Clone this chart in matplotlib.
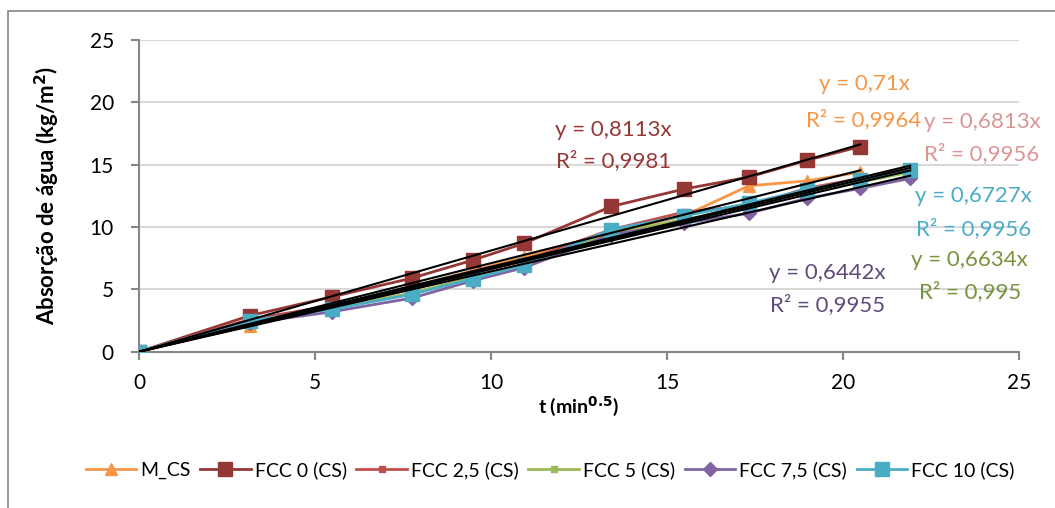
import numpy as np
import matplotlib
matplotlib.use("Agg")
import matplotlib.pyplot as plt
from matplotlib.patches import Rectangle

plt.rcParams['font.family'] = ['Lato', 'DejaVu Sans']

# t (min^0.5)
t_short = [0, 3.16, 5.48, 7.75, 9.49, 10.95, 13.42, 15.49, 17.32, 18.97, 20.49]
t_long = t_short + [21.91]

m_cs = [0, 2.1, 3.7, 5.2, 6.5, 7.6, 9.6, 10.9, 13.3, 13.7, 14.4]
fcc0 = [0, 2.9, 4.4, 5.9, 7.35, 8.7, 11.65, 13.05, 14.0, 15.35, 16.45]
fcc25 = [0, 2.6, 3.7, 5.0, 6.3, 7.3, 9.8, 11.2, 11.7, 13.1, 13.9, 14.8]
fcc5 = [0, 2.4, 3.5, 4.7, 6.0, 7.0, 9.5, 10.6, 11.6, 12.8, 13.6, 14.4]
fcc75 = [0, 2.3, 3.2, 4.3, 5.7, 6.75, 9.4, 10.3, 11.1, 12.3, 13.1, 13.9]
fcc10 = [0, 2.5, 3.4, 4.6, 5.85, 6.95, 9.8, 10.9, 11.9, 13.0, 13.8, 14.6]

names = ["M_CS", "FCC 0 (CS)", "FCC 2,5 (CS)", "FCC 5 (CS)", "FCC 7,5 (CS)", "FCC 10 (CS)"]
slopes = [0.71, 0.8113, 0.6813, 0.6634, 0.6442, 0.6727]
r2 = ["0,9964", "0,9981", "0,9956", "0,995", "0,9955", "0,9956"]
eq = ["0,71", "0,8113", "0,6813", "0,6634", "0,6442", "0,6727"]

series = [(t_short, m_cs), (t_short, fcc0), (t_long, fcc25),
          (t_long, fcc5), (t_long, fcc75), (t_long, fcc10)]
colors = ["#F79646", "#953735", "#C0504D", "#9BBB59", "#8064A2", "#4BACC6"]
markers = ["^", "s", "s", "s", "D", "s"]
msizes = [9, 10, 4, 4, 7, 10]
label_colors = ["#F79646", "#953735", "#D99694", "#77933C", "#604A7B", "#4BACC6"]
# label anchor positions (data coords): equation line, R2 line
label_pos = [(20.6, 21.45, 18.6), (13.47, 17.75, 15.35), (23.95, 18.4, 15.9),
             (23.6, 7.35, 4.85), (19.55, 6.3, 3.75), (23.7, 12.45, 9.9)]

fig = plt.figure(figsize=(10.55, 5.08), dpi=100)
ax = fig.add_axes([139 / 1055, 1 - 351.7 / 508, 880 / 1055, 311.7 / 508])

# chart border
fig.patches.append(Rectangle((7.5 / 1055, -0.1), 1.2, 1 - 11 / 508 + 0.1,
                             transform=fig.transFigure, fill=False,
                             edgecolor="#868686", linewidth=1.2))

for i, ((x, y), c) in enumerate(zip(series, colors)):
    ax.plot(x, y, color=c, linewidth=2, marker=markers[i], markersize=msizes[i],
            markeredgecolor=c, label=names[i], zorder=3 + i * 0.1)

# linear trendlines through origin
for i, (x, y) in enumerate(series):
    xs = np.array([0, x[-1]])
    ax.plot(xs, slopes[i] * xs, color="black", linewidth=1.5, zorder=4)

for i in range(6):
    lx, ly1, ly2 = label_pos[i]
    ax.text(lx, ly1, "y = " + eq[i] + "x", color=label_colors[i], fontsize=16,
            ha="center", va="center", clip_on=False, zorder=5)
    ax.text(lx, ly2, "R² = " + r2[i], color=label_colors[i], fontsize=16,
            ha="center", va="center", clip_on=False, zorder=5)

ax.set_xlim(0, 25)
ax.set_ylim(0, 25)
ax.set_xticks(range(0, 26, 5))
ax.set_yticks(range(0, 26, 5))
ax.grid(axis="y", color="#D9D9D9", linewidth=1.5)
ax.set_axisbelow(True)
for s in ["top", "right"]:
    ax.spines[s].set_visible(False)
for s in ["left", "bottom"]:
    ax.spines[s].set_color("#868686")
    ax.spines[s].set_linewidth(1.5)
ax.tick_params(axis="both", colors="#868686", labelcolor="black", labelsize=15,
               width=1.5, length=6)
ax.tick_params(axis="x", pad=9)
ax.tick_params(axis="y", pad=12)

ax.set_xlabel("t (min$^{\\mathbf{0.5}}$)", fontsize=14, fontweight="bold", labelpad=1)
ax.set_ylabel("Absorção de água (kg/m$^{\\mathbf{2}}$)", fontsize=16,
              fontweight="bold", labelpad=20)

ax.legend(loc="center", bbox_to_anchor=(550 / 1055, 1 - 470 / 508),
          bbox_transform=fig.transFigure, ncol=6, frameon=False, fontsize=14,
          handlelength=2.6, handletextpad=0.2, columnspacing=0.5)

fig.savefig("out.png", dpi=100)
